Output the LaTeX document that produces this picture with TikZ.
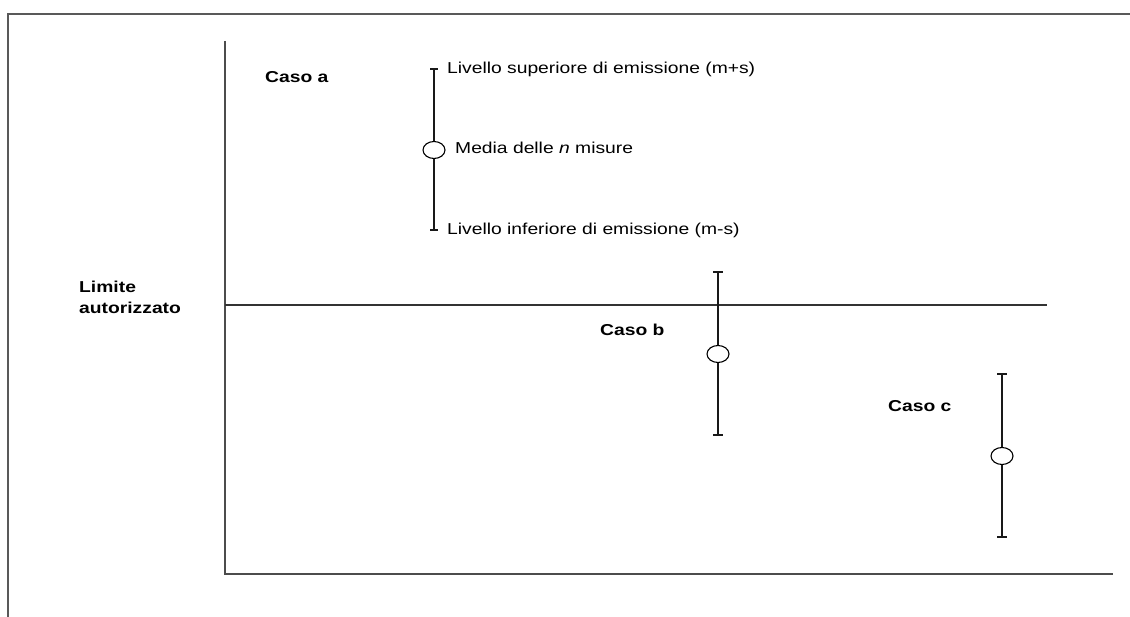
\documentclass[tikz,border=0pt]{standalone}
\usepackage{fontspec}
\setmainfont{Liberation Sans}[FakeStretch=1.22]
\usetikzlibrary{shapes.geometric}

\begin{document}
\begin{tikzpicture}[x=1pt, y=-1pt,
    frame/.style={draw=black!65, line width=1.3pt},
    axis/.style={draw=black!70, line width=1.8pt},
    limit/.style={draw=black!80, line width=1.3pt},
    bar/.style={draw=black!90, line width=1.4pt},
    mean/.style={ellipse, draw=black, line width=1.1pt, fill=white,
        minimum width=22pt, minimum height=17pt, inner sep=0pt},
    txt/.style={anchor=base west, inner sep=0pt,
        font=\fontsize{15.8}{21.3}\selectfont},
    case/.style={txt, font=\fontsize{15.8}{21.3}\selectfont\bfseries}
]
    \useasboundingbox (0,0) rectangle (1130,617);
    % outer frame
    \coordinate (fl) at (8,617);
    \coordinate (fc) at (8,14);
    \coordinate (fr) at (1130,14);
    \draw[frame] (fl) -- (fc) -- (fr);
    % axes
    \coordinate (ytop) at (225,41);
    \coordinate (orig) at (225,574);
    \coordinate (xend) at (1113,574);
    \draw[axis] (ytop) -- (orig) -- (xend);
    % authorised limit
    \coordinate (lim0) at (225,305);
    \coordinate (lim1) at (1047,305);
    \draw[limit] (lim0) -- (lim1);
    \node[case, align=left] (limit) at (79,314) {Limite\\autorizzato};
    % case a
    \coordinate (atop) at (434,69);
    \coordinate (abot) at (434,230);
    \node[mean] (amean) at (434,150) {};
    \draw[bar] (atop) -- (amean);
    \draw[bar] (amean) -- (abot);
    \draw[bar] ([xshift=-4pt]atop) -- ([xshift=4pt]atop);
    \draw[bar] ([xshift=-4pt]abot) -- ([xshift=4pt]abot);
    \node[case] (casea) at (265,82.7) {Caso a};
    \node[txt] (sup) at (447,74) {Livello superiore di emissione (m+s)};
    \node[txt] (media) at (455,154) {Media delle \textit{n} misure};
    \node[txt] (inf) at (447,235) {Livello inferiore di emissione (m-s)};
    % case b
    \coordinate (btop) at (718,272);
    \coordinate (bbot) at (718,435);
    \node[mean] (bmean) at (718,354) {};
    \draw[bar] (btop) -- (bmean);
    \draw[bar] (bmean) -- (bbot);
    \draw[bar] ([xshift=-5pt]btop) -- ([xshift=5pt]btop);
    \draw[bar] ([xshift=-5pt]bbot) -- ([xshift=5pt]bbot);
    \node[case] (caseb) at (600,336) {Caso b};
    % case c
    \coordinate (ctop) at (1002,374);
    \coordinate (cbot) at (1002,537);
    \node[mean] (cmean) at (1002,456) {};
    \draw[bar] (ctop) -- (cmean);
    \draw[bar] (cmean) -- (cbot);
    \draw[bar] ([xshift=-5pt]ctop) -- ([xshift=5pt]ctop);
    \draw[bar] ([xshift=-5pt]cbot) -- ([xshift=5pt]cbot);
    \node[case] (casec) at (888,411.7) {Caso c};
\end{tikzpicture}
\end{document}
